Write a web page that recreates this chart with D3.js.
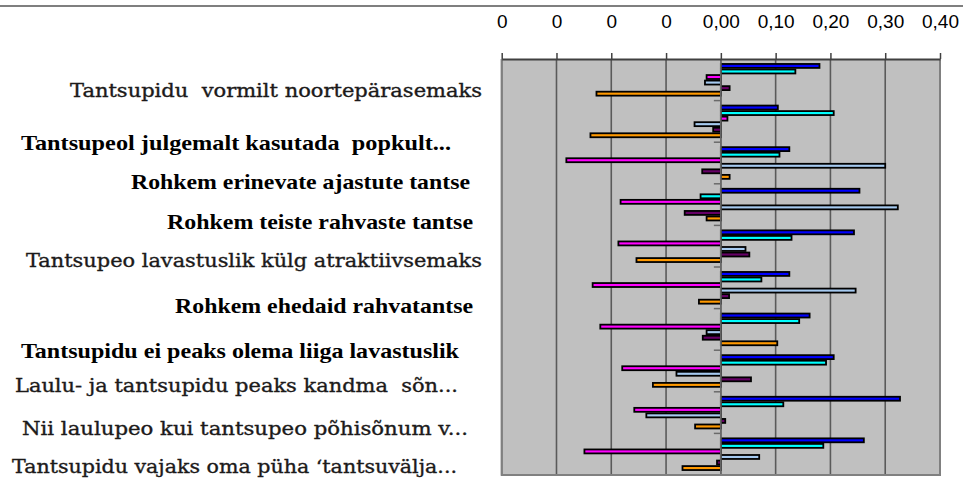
<!DOCTYPE html>
<html lang="et">
<meta charset="utf-8">
<style>
  body { margin: 0; background: #fff; }
  svg { display: block; }
</style>
<script src="https://d3js.org/d3.v7.min.js"></script>
<body>
<div id="chart"></div>
<script>
  var W = 963, H = 482;

  // categories (top to bottom)
  var categories = [
    "Tantsupidu  vormilt noortepärasemaks",
    "Tantsupeol julgemalt kasutada  popkult...",
    "Rohkem erinevate ajastute tantse",
    "Rohkem teiste rahvaste tantse",
    "Tantsupeo lavastuslik külg atraktiivsemaks",
    "Rohkem ehedaid rahvatantse",
    "Tantsupidu ei peaks olema liiga lavastuslik",
    "Laulu- ja tantsupidu peaks kandma  sõn...",
    "Nii laulupeo kui tantsupeo põhisõnum v...",
    "Tantsupidu vajaks oma püha ‘tantsuvälja..."
  ];
  var boldLabel = [false, true, true, true, false, true, true, false, false, false];

  // series values, one value per category
  var seriesBlue      = [0.180, 0.104, 0.125, 0.253, 0.243, 0.125, 0.162, 0.206, 0.327, 0.261];
  var seriesCyan      = [0.136, 0.206, 0.107, -0.037, 0.129, 0.074, 0.143, 0.192, 0.114, 0.187];
  var seriesMagenta   = [-0.026, 0.012, -0.282, -0.183, -0.187, -0.234, -0.220, -0.180, -0.158, -0.249];
  var seriesLightBlue = [-0.029, -0.048, 0.300, 0.323, 0.045, 0.246, -0.026, -0.081, -0.136, 0.070];
  var seriesPurple    = [0.016, -0.014, -0.034, -0.066, 0.052, 0.015, -0.033, 0.055, 0.008, -0.007];
  var seriesOrange    = [-0.227, -0.238, 0.016, -0.026, -0.154, -0.040, 0.103, -0.124, -0.047, -0.070];

  var seriesNames = ["blue", "cyan", "magenta", "lightblue", "purple", "orange"];
  var seriesValues = [seriesBlue, seriesCyan, seriesMagenta, seriesLightBlue, seriesPurple, seriesOrange];
  var seriesColors = ["#0000ff", "#00ffff", "#ff00ff", "#a6caf0", "#660066", "#ff9900"];

  // tick labels of the value axis (as printed)
  var tickValues = [-0.4, -0.3, -0.2, -0.1, 0, 0.1, 0.2, 0.3, 0.4];
  var tickLabels = ["0", "0", "0", "0", "0,00", "0,10", "0,20", "0,30", "0,40"];

  // label layout: [left x, right x, baseline offset from band centre]
  var labelBox = [
    [70, 482, 17.5], [21, 451, 28.6], [131, 470, 26.3], [167, 473, 24.7], [26, 482, 20.5],
    [175, 473, 25.5], [21, 459, 28.9], [15, 458, 20.7], [22, 468, 22.4], [12, 457, 19.1]
  ];

  var plot = {left: 501.7, right: 940, top: 59, bottom: 475};

  var svg = d3.select("#chart").append("svg")
    .attr("width", W)
    .attr("height", H);

  // frame line at the top of the picture
  svg.append("line")
    .attr("x1", 0).attr("x2", W)
    .attr("y1", 6).attr("y2", 6)
    .attr("stroke", "#7f7f7f")
    .attr("stroke-width", 2);

  var x = d3.scaleLinear()
    .domain([-0.4, 0.4])
    .range([plot.left, plot.right]);

  var y = d3.scaleBand()
    .domain(categories)
    .range([plot.top, plot.bottom])
    .paddingInner(0.2)
    .paddingOuter(0.1);

  var ySub = d3.scaleBand()
    .domain(seriesNames)
    .range([0, y.bandwidth()]);

  // plot background
  svg.append("rect")
    .attr("x", plot.left)
    .attr("y", plot.top)
    .attr("width", plot.right - plot.left)
    .attr("height", plot.bottom - plot.top)
    .attr("fill", "#c0c0c0");

  // vertical grid lines
  svg.append("g")
    .selectAll("line")
    .data(tickValues)
    .enter()
    .append("line")
      .attr("x1", (d) => x(d))
      .attr("x2", (d) => x(d))
      .attr("y1", plot.top)
      .attr("y2", plot.bottom)
      .attr("stroke", "#5a5a5a")
      .attr("stroke-width", 1.6);

  // bars
  var rows = [];
  categories.forEach((c, i) => {
    seriesNames.forEach((s, j) => {
      rows.push({cat: c, series: s, value: seriesValues[j][i], color: seriesColors[j]});
    });
  });

  svg.append("g")
    .selectAll("rect")
    .data(rows)
    .enter()
    .append("rect")
      .attr("x", (d) => x(Math.min(0, d.value)))
      .attr("y", (d) => y(d.cat) + ySub(d.series) + 0.8)
      .attr("width", (d) => Math.abs(x(d.value) - x(0)))
      .attr("height", ySub.bandwidth() - 1.6)
      .attr("fill", (d) => d.color)
      .attr("stroke", "#000")
      .attr("stroke-width", 1.8);

  // category ticks on the zero line
  var bounds = d3.range(1, categories.length).map((i) => plot.top + i * y.step());
  svg.append("g")
    .selectAll("line")
    .data(bounds)
    .enter()
    .append("line")
      .attr("x1", x(0) - 7)
      .attr("x2", x(0))
      .attr("y1", (d) => d)
      .attr("y2", (d) => d)
      .attr("stroke", "#6a6a6a")
      .attr("stroke-width", 1.5);

  // zero line
  svg.append("line")
    .attr("x1", x(0)).attr("x2", x(0))
    .attr("y1", plot.top).attr("y2", plot.bottom)
    .attr("stroke", "#6a6a6a")
    .attr("stroke-width", 1.6);

  // plot border (left, bottom, right)
  svg.append("path")
    .attr("d", "M" + plot.left + "," + plot.top + "V" + plot.bottom + "H" + plot.right + "V" + plot.top)
    .attr("fill", "none")
    .attr("stroke", "#808080")
    .attr("stroke-width", 2);

  // value axis on top
  var axis = svg.append("g")
    .attr("transform", "translate(0," + plot.top + ")")
    .call(d3.axisTop(x)
      .tickValues(tickValues)
      .tickFormat((d, i) => tickLabels[i])
      .tickSize(6)
      .tickSizeOuter(0)
      .tickPadding(25));
  axis.select(".domain").attr("stroke", "#404040").attr("stroke-width", 2);
  axis.selectAll(".tick line").attr("stroke", "#404040").attr("stroke-width", 1.5);
  axis.selectAll(".tick text")
    .attr("font-family", "'Liberation Sans', Arial, sans-serif")
    .attr("font-size", 19)
    .attr("fill", "#000");

  // category labels
  svg.append("g")
    .selectAll("text")
    .data(categories)
    .enter()
    .append("text")
      .attr("x", (d, i) => labelBox[i][0])
      .attr("y", (d, i) => y(d) + y.bandwidth() / 2 + labelBox[i][2])
      .attr("textLength", (d, i) => labelBox[i][1] - labelBox[i][0])
      .attr("lengthAdjust", "spacingAndGlyphs")
      .attr("font-family", (d, i) => boldLabel[i] ? "'Liberation Serif', 'Times New Roman', serif" : "'DejaVu Serif', serif")
      .attr("font-weight", (d, i) => boldLabel[i] ? "bold" : "normal")
      .attr("font-size", (d, i) => boldLabel[i] ? 21 : 18)
      .attr("fill", (d, i) => boldLabel[i] ? "#000" : "#1c1a1a")
      .attr("stroke", (d, i) => boldLabel[i] ? "none" : "#1c1a1a")
      .attr("stroke-width", 0.35)
      .style("white-space", "pre")
      .text((d) => d);
</script>
</body>
</html>
